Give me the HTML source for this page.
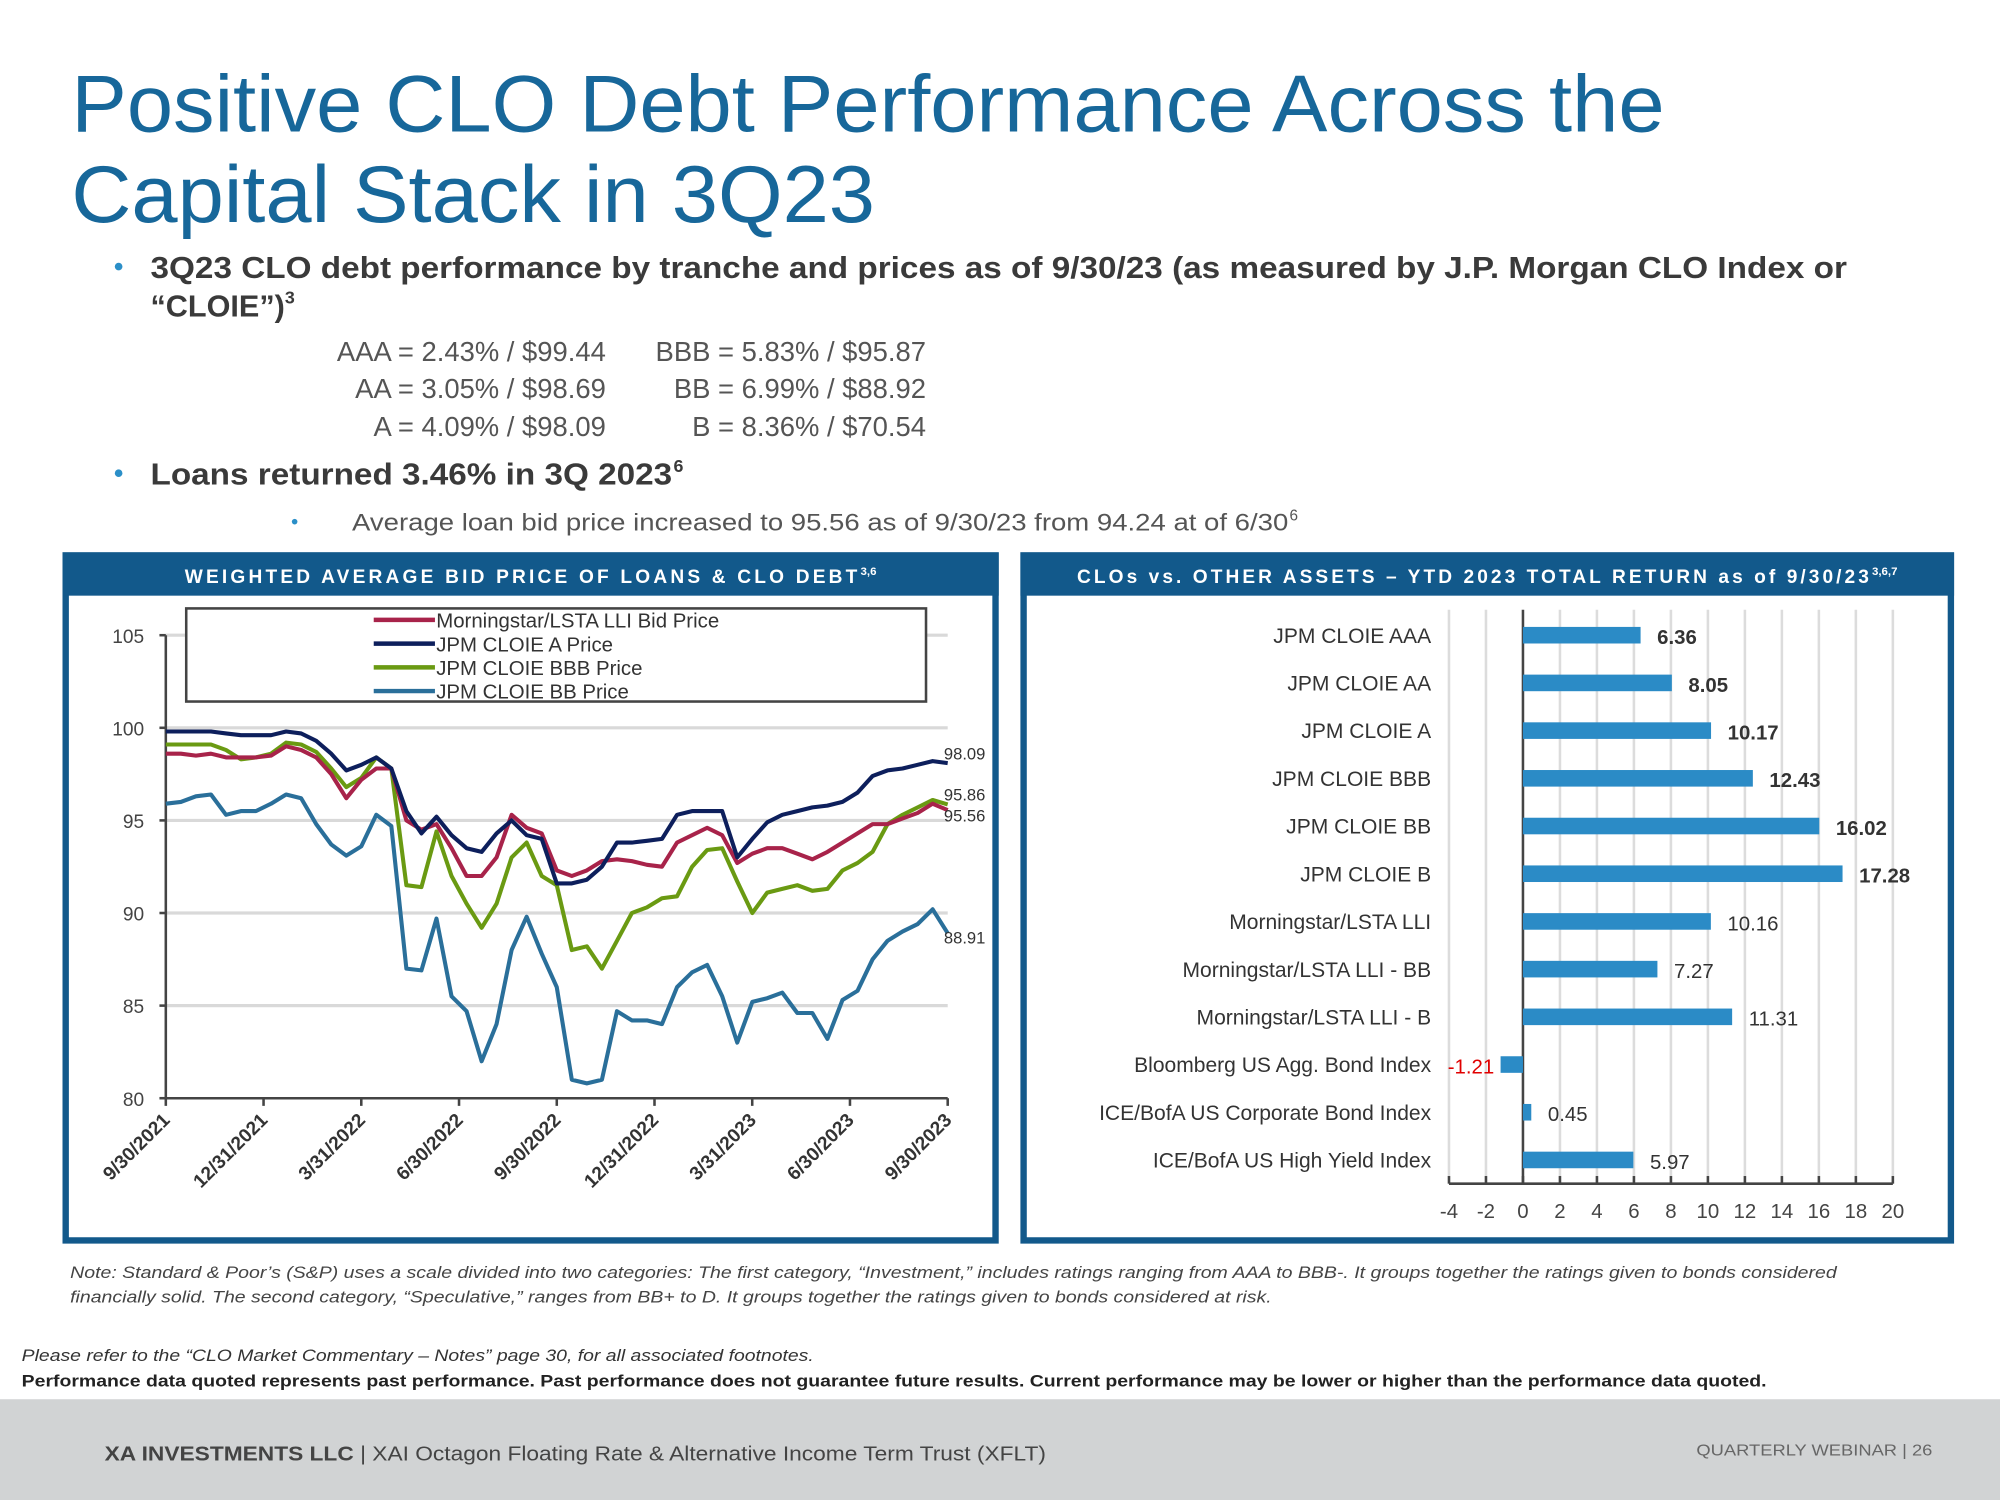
<!DOCTYPE html>
<html><head><meta charset="utf-8"><style>
html,body{margin:0;padding:0;background:#fff;}
svg{display:block;font-family:"Liberation Sans",Arial,sans-serif;}
</style></head><body>
<svg id="slide" width="2000" height="1500" viewBox="0 0 1568 1176" xmlns="http://www.w3.org/2000/svg">
<rect x="0" y="0" width="1568" height="1176" fill="#fff"/>
<g fill="#17679a" font-size="63">
<text x="56" y="103" textLength="1249" lengthAdjust="spacingAndGlyphs">Positive CLO Debt Performance Across the</text>
<text x="56" y="174" textLength="630" lengthAdjust="spacingAndGlyphs">Capital Stack in 3Q23</text>
</g>
<g fill="#3a3a3a">
<circle cx="93" cy="209" r="3" fill="#2b8fc8"/>
<text x="118" y="218" font-size="24" font-weight="bold" textLength="1330" lengthAdjust="spacingAndGlyphs">3Q23 CLO debt performance by tranche and prices as of 9/30/23 (as measured by J.P. Morgan CLO Index or</text>
<text x="118" y="248" font-size="24" font-weight="bold">“CLOIE”)<tspan font-size="14" dy="-10">3</tspan></text>
</g>
<g fill="#555" font-size="21.5">
<text x="475" y="283" text-anchor="end">AAA = 2.43% / $99.44</text>
<text x="475" y="312" text-anchor="end">AA = 3.05% / $98.69</text>
<text x="475" y="342" text-anchor="end">A = 4.09% / $98.09</text>
<text x="726" y="283" text-anchor="end">BBB = 5.83% / $95.87</text>
<text x="726" y="312" text-anchor="end">BB = 6.99% / $88.92</text>
<text x="726" y="342" text-anchor="end">B = 8.36% / $70.54</text>
</g>
<g fill="#3a3a3a">
<circle cx="93" cy="371" r="3" fill="#2b8fc8"/>
<text x="118" y="380" font-size="24" font-weight="bold" textLength="409" lengthAdjust="spacingAndGlyphs">Loans returned 3.46% in 3Q 2023</text>
<text x="528" y="370" font-size="14" font-weight="bold">6</text>
</g>
<g fill="#555">
<circle cx="231" cy="409" r="2.2" fill="#2b8fc8"/>
<text x="276" y="416" font-size="19" textLength="734" lengthAdjust="spacingAndGlyphs">Average loan bid price increased to 95.56 as of 9/30/23 from 94.24 at of 6/30</text>
<text x="1011" y="408" font-size="12">6</text>
</g>

<!-- Left panel -->
<g>
<rect x="51.5" y="435.5" width="729" height="537" fill="#fff" stroke="#12598b" stroke-width="5"/>
<rect x="49" y="433" width="734" height="34" fill="#12598b"/>
<text x="416" y="457" text-anchor="middle" fill="#fff" font-size="15" font-weight="bold" letter-spacing="2.5">WEIGHTED AVERAGE BID PRICE OF LOANS &amp; CLO DEBT<tspan font-size="9" dy="-6" letter-spacing="0">3,6</tspan></text>
<g id="lineChart"></g>
</g>

<!-- Right panel -->
<g>
<rect x="802.5" y="435.5" width="727" height="537" fill="#fff" stroke="#12598b" stroke-width="5"/>
<rect x="800" y="433" width="732" height="34" fill="#12598b"/>
<text x="1166" y="457" text-anchor="middle" fill="#fff" font-size="15" font-weight="bold" letter-spacing="2.4">CLOs vs. OTHER ASSETS – YTD 2023 TOTAL RETURN as of 9/30/23<tspan font-size="9" dy="-6" letter-spacing="0">3,6,7</tspan></text>
<g id="barChart"></g>
</g>

<g fill="#444" font-size="13" font-style="italic">
<text x="55" y="1002" textLength="1385" lengthAdjust="spacingAndGlyphs">Note: Standard &amp; Poor’s (S&amp;P) uses a scale divided into two categories: The first category, “Investment,” includes ratings ranging from AAA to BBB-. It groups together the ratings given to bonds considered</text>
<text x="55" y="1021" textLength="942" lengthAdjust="spacingAndGlyphs">financially solid. The second category, “Speculative,” ranges from BB+ to D. It groups together the ratings given to bonds considered at risk.</text>
</g>
<text x="17" y="1067" fill="#333" font-size="13" font-style="italic" textLength="621" lengthAdjust="spacingAndGlyphs">Please refer to the “CLO Market Commentary – Notes” page 30, for all associated footnotes.</text>
<text x="17" y="1087" fill="#222" font-size="13.3" font-weight="bold" textLength="1368" lengthAdjust="spacingAndGlyphs">Performance data quoted represents past performance. Past performance does not guarantee future results. Current performance may be lower or higher than the performance data quoted.</text>
<g>
<rect x="0" y="1097" width="1568" height="79" fill="#d1d3d4"/>
<text x="82" y="1145" fill="#444" font-size="16" textLength="738" lengthAdjust="spacingAndGlyphs"><tspan font-weight="bold">XA INVESTMENTS LLC</tspan>  |  XAI Octagon Floating Rate &amp; Alternative Income Term Trust (XFLT)</text>
<text x="1330" y="1141" fill="#666" font-size="12" textLength="185" lengthAdjust="spacingAndGlyphs">QUARTERLY WEBINAR  |  26</text>
</g>
</svg>
<script>
// ---------- Line chart data ----------
const dateLabels = ["9/30/2021","12/31/2021","3/31/2022","6/30/2022","9/30/2022","12/31/2022","3/31/2023","6/30/2023","9/30/2023"];
const yTicks = [80,85,90,95,100,105];
const seriesNames = ["Morningstar/LSTA LLI Bid Price","JPM CLOIE A Price","JPM CLOIE BBB Price","JPM CLOIE BB Price"];
const seriesColors = ["#a8234a","#0d1f5c","#6a9a12","#2a6f9a"];
const lliPrice = [98.6,98.6,98.5,98.6,98.4,98.4,98.4,98.5,99.0,98.8,98.4,97.5,96.2,97.2,97.8,97.8,95.0,94.5,94.8,93.5,92.0,92.0,93.0,95.3,94.6,94.3,92.3,92.0,92.3,92.8,92.9,92.8,92.6,92.5,93.8,94.2,94.6,94.2,92.7,93.2,93.5,93.5,93.2,92.9,93.3,93.8,94.3,94.8,94.8,95.1,95.4,95.9,95.56];
const aPrice = [99.8,99.8,99.8,99.8,99.7,99.6,99.6,99.6,99.8,99.7,99.3,98.6,97.7,98.0,98.4,97.8,95.5,94.3,95.2,94.2,93.5,93.3,94.3,95.0,94.2,94.0,91.6,91.6,91.8,92.5,93.8,93.8,93.9,94.0,95.3,95.5,95.5,95.5,93.0,94.0,94.9,95.3,95.5,95.7,95.8,96.0,96.5,97.4,97.7,97.8,98.0,98.2,98.09];
const bbbPrice = [99.1,99.1,99.1,99.1,98.8,98.3,98.4,98.6,99.2,99.1,98.7,97.8,96.8,97.3,98.4,97.8,91.5,91.4,94.4,92.0,90.5,89.2,90.5,93.0,93.8,92.0,91.5,88.0,88.2,87.0,88.5,90.0,90.3,90.8,90.9,92.5,93.4,93.5,91.7,90.0,91.1,91.3,91.5,91.2,91.3,92.3,92.7,93.3,94.8,95.3,95.7,96.1,95.86];
const bbPrice = [95.9,96.0,96.3,96.4,95.3,95.5,95.5,95.9,96.4,96.2,94.8,93.7,93.1,93.6,95.3,94.7,87.0,86.9,89.7,85.5,84.7,82.0,84.0,88.0,89.8,87.8,86.0,81.0,80.8,81.0,84.7,84.2,84.2,84.0,86.0,86.8,87.2,85.5,83.0,85.2,85.4,85.7,84.6,84.6,83.2,85.3,85.8,87.5,88.5,89.0,89.4,90.2,88.91];
const endLabels = ["95.56","98.09","95.86","88.91"];

// ---------- Bar chart data ----------
const barCategories = ["JPM CLOIE AAA","JPM CLOIE AA","JPM CLOIE A","JPM CLOIE BBB","JPM CLOIE BB","JPM CLOIE B","Morningstar/LSTA LLI","Morningstar/LSTA LLI - BB","Morningstar/LSTA LLI - B","Bloomberg US Agg. Bond Index","ICE/BofA US Corporate Bond Index","ICE/BofA US High Yield Index"];
const barValues = [6.36,8.05,10.17,12.43,16.02,17.28,10.16,7.27,11.31,-1.21,0.45,5.97];
const barBold = [true,true,true,true,true,true,false,false,false,false,false,false];
const xTicks = [-4,-2,0,2,4,6,8,10,12,14,16,18,20];

const NS = "http://www.w3.org/2000/svg";
function mk(tag, attrs, parent){ const e=document.createElementNS(NS,tag); for(const k in attrs) e.setAttribute(k,attrs[k]); parent.appendChild(e); return e; }

// ---- line chart ----
(function(){
  const g = document.getElementById('lineChart');
  const x0=130, x1=743, yTop=498, yBot=861, vMin=80, vMax=105;
  const nPts = aPrice.length;
  const xs = i => x0 + (x1-x0)*i/(nPts-1);
  const ys = v => yBot - (v-vMin)/(vMax-vMin)*(yBot-yTop);
  const xd = i => x0 + (x1-x0)*i/(dateLabels.length-1);
  yTicks.forEach(t=>{
    if(t>vMin){
      const l = mk('line',{x1:x0,x2:x1,y1:ys(t),y2:ys(t),stroke:'#d9d9d9','stroke-width':2.5},g);
      
      
    }
    const tx = mk('text',{x:113,y:ys(t)+6,'text-anchor':'end','font-size':15,fill:'#444'},g);
    tx.textContent=t;
    
    
  });
  const ax = mk('path',{d:`M${x0},${yTop} V${yBot} H${x1}`,fill:'none',stroke:'#444','stroke-width':2},g);
  
  
  yTicks.forEach(t=>{ mk('line',{x1:x0-5,x2:x0,y1:ys(t),y2:ys(t),stroke:'#444','stroke-width':2},g); });
  dateLabels.forEach((d,i)=>{
    mk('line',{x1:xd(i),x2:xd(i),y1:yBot,y2:yBot+6,stroke:'#444','stroke-width':2},g);
    const tx = mk('text',{x:xd(i)+4,y:yBot+18,'text-anchor':'end','font-size':15,'font-weight':'bold',fill:'#333',transform:`rotate(-45 ${xd(i)+4} ${yBot+18})`},g);
    tx.textContent=d;
    
    
  });
  const all=[lliPrice,aPrice,bbbPrice,bbPrice];
  const order=[3,2,0,1];
  order.forEach(si=>{
    const arr=all[si];
    const d = arr.map((v,i)=>(i?'L':'M')+xs(i).toFixed(1)+','+ys(v).toFixed(1)).join(' ');
    const p = mk('path',{d:d,fill:'none',stroke:seriesColors[si],'stroke-width':3.2,'stroke-linejoin':'round'},g);
    
    
  });
  all.forEach((arr,si)=>{
    const v=arr[arr.length-1];
    const off = si===1?-3:(si===2?-3:(si===0?9:8));
    const tx = mk('text',{x:x1-3,y:ys(v)+off,'font-size':13,fill:'#333'},g);
    tx.textContent=endLabels[si];
    
    
  });
  const lg = mk('g',{},g);
  
  
  mk('rect',{x:146,y:477,width:580,height:73,fill:'#fff',stroke:'#444','stroke-width':2},lg);
  seriesNames.forEach((n,i)=>{
    const yy=486+i*18.6;
    const e = mk('g',{},lg);
    
    
    mk('line',{x1:293,x2:341,y1:yy,y2:yy,stroke:seriesColors[i],'stroke-width':3.5},e);
    const t=mk('text',{x:342,y:yy+6,'font-size':16,fill:'#333'},e);
    t.textContent=n;
  });
})();

// ---- bar chart ----
(function(){
  const g = document.getElementById('barChart');
  const vMin=-4, vMax=20, px0=1136, px1=1484;
  const xs = v => px0 + (v-vMin)/(vMax-vMin)*(px1-px0);
  const yTop=478, yAxis=928, rowH=37.4, row0=498, bh=13;
  xTicks.forEach(t=>{
    if(t!==0){
      const l=mk('line',{x1:xs(t),x2:xs(t),y1:yTop,y2:yAxis,stroke:'#dcdcdc','stroke-width':2},g);
      
      
    }
    mk('line',{x1:xs(t),x2:xs(t),y1:yAxis-6,y2:yAxis,stroke:'#444','stroke-width':2},g);
    const tx=mk('text',{x:xs(t),y:955,'text-anchor':'middle','font-size':16,fill:'#444'},g);
    tx.textContent=t;
    
    
  });
  mk('line',{x1:xs(vMin),x2:xs(vMax),y1:yAxis,y2:yAxis,stroke:'#444','stroke-width':2},g);
  mk('line',{x1:xs(0),x2:xs(0),y1:yTop,y2:yAxis,stroke:'#444','stroke-width':2},g);
  barCategories.forEach((c,i)=>{
    const cy=row0+i*rowH, v=barValues[i];
    const xa=Math.min(xs(0),xs(v)), w=Math.abs(xs(v)-xs(0));
    const r=mk('rect',{x:xa,y:cy-bh/2,width:w,height:bh,fill:'#2b8bc6'},g);
    
    
    const lb=mk('text',{x:1122,y:cy+6,'text-anchor':'end','font-size':16.5,fill:'#333'},g);
    lb.textContent=c;
    
    
    let vl;
    if(v<0){
      vl=mk('text',{x:xs(v)-5,y:cy+7,'text-anchor':'end','font-size':16,fill:'#e00000'},g);
    } else {
      vl=mk('text',{x:xs(v)+13,y:cy+7,'font-size':16,fill:'#333','font-weight':barBold[i]?'bold':'normal'},g);
    }
    vl.textContent=v.toFixed(2);
    
    
  });
})();
</script>
</body></html>
